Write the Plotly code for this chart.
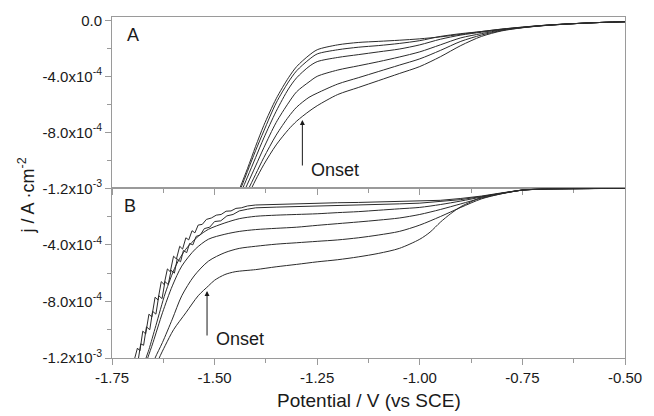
import plotly.graph_objects as go

# ---------------- data (current density in units of 1e-4 A/cm^2) ----------------
A_V = [-1.44, -1.42, -1.40, -1.38, -1.35, -1.32, -1.30, -1.27, -1.25, -1.20, -1.15, -1.10,
       -1.05, -1.00, -0.95, -0.90, -0.85, -0.80, -0.75, -0.70, -0.65, -0.60, -0.55, -0.50]
A1 = [-12.1, -10.6, -9.0, -7.5, -5.6, -4.1, -3.3, -2.5, -2.1, -1.75, -1.58, -1.50,
      -1.42, -1.32, -1.18, -1.00, -0.80, -0.62, -0.48, -0.36, -0.27, -0.20, -0.14, -0.10]
A2 = [-12.3, -10.8, -9.3, -7.9, -5.9, -4.4, -3.6, -2.8, -2.4, -2.1, -1.92, -1.80,
      -1.65, -1.45, -1.15, -0.95, -0.80, -0.63, -0.49, -0.36, -0.27, -0.20, -0.14, -0.10]
A3 = [-12.6, -11.2, -9.8, -8.4, -6.5, -4.9, -4.1, -3.3, -2.95, -2.65, -2.45, -2.25,
      -2.05, -1.75, -1.35, -1.05, -0.85, -0.65, -0.50, -0.37, -0.27, -0.20, -0.14, -0.10]
A4 = [-13.0, -11.7, -10.4, -9.1, -7.3, -5.9, -5.1, -4.4, -4.0, -3.55, -3.25, -2.95,
      -2.62, -2.25, -1.75, -1.25, -0.95, -0.68, -0.51, -0.37, -0.28, -0.20, -0.14, -0.10]
A5 = [-13.4, -12.2, -11.0, -9.8, -8.2, -6.9, -6.2, -5.5, -5.2, -4.55, -4.1, -3.65,
      -3.2, -2.75, -2.15, -1.5, -1.05, -0.72, -0.52, -0.38, -0.28, -0.20, -0.14, -0.10]
A6 = [-13.8, -12.6, -11.4, -10.3, -8.9, -7.8, -7.2, -6.5, -6.1, -5.3, -4.8, -4.3,
      -3.8, -3.3, -2.6, -1.8, -1.15, -0.75, -0.53, -0.38, -0.28, -0.20, -0.14, -0.10]

B1_V = [-1.700, -1.695, -1.688, -1.682, -1.675, -1.668, -1.660, -1.653, -1.645, -1.638,
        -1.630, -1.623, -1.615, -1.608, -1.600, -1.593, -1.585, -1.578, -1.570, -1.563,
        -1.555, -1.548, -1.540, -1.530, -1.520, -1.508, -1.496, -1.484, -1.472, -1.460,
        -1.448, -1.435, -1.42, -1.40, -1.35, -1.30, -1.25, -1.20, -1.15,
        -1.10, -1.05, -1.00, -0.95, -0.90, -0.85, -0.80, -0.75, -0.70, -0.65, -0.60, -0.55, -0.50]
B1 = [-12.6, -12.1, -11.3, -11.5, -10.1, -10.3, -8.9, -9.1, -7.7, -7.9,
      -6.6, -6.8, -5.7, -5.9, -4.8, -5.0, -4.1, -4.3, -3.5, -3.65,
      -3.0, -3.15, -2.6, -2.55, -2.2, -2.1, -1.9, -1.85, -1.62, -1.6,
      -1.42, -1.38, -1.25, -1.18, -1.13, -1.10, -1.06, -1.02, -1.00,
      -0.97, -0.95, -0.92, -0.85, -0.72, -0.55, -0.32, -0.12, -0.05, -0.03, -0.02, -0.01, 0.0]

B2_V = [-1.700, -1.694, -1.687, -1.680, -1.673, -1.666, -1.658, -1.651, -1.643, -1.636,
        -1.628, -1.621, -1.613, -1.606, -1.598, -1.591, -1.583, -1.576, -1.568, -1.561,
        -1.553, -1.545, -1.535, -1.525, -1.512, -1.500, -1.485, -1.47, -1.455, -1.44,
        -1.42, -1.40, -1.35, -1.30, -1.25, -1.20, -1.15, -1.10, -1.05, -1.00, -0.95, -0.90,
        -0.85, -0.80, -0.75, -0.70, -0.65, -0.60, -0.55, -0.50]
B2 = [-13.0, -12.2, -12.3, -11.0, -11.1, -9.8, -10.0, -8.7, -8.9, -7.6,
      -7.8, -6.6, -6.8, -5.8, -6.0, -5.0, -5.2, -4.4, -4.55, -3.9,
      -4.0, -3.4, -3.3, -2.85, -2.75, -2.35, -2.3, -1.95, -1.85, -1.6,
      -1.48, -1.38, -1.33, -1.30, -1.26, -1.22, -1.18, -1.15, -1.10, -1.05, -0.95, -0.80,
      -0.58, -0.33, -0.12, -0.05, -0.03, -0.02, -0.01, 0.0]

B3_V = [-1.672, -1.667, -1.66, -1.643, -1.62, -1.595, -1.57, -1.54, -1.515, -1.475, -1.44,
        -1.40, -1.35, -1.30, -1.25, -1.20, -1.15, -1.10, -1.05, -1.00, -0.95, -0.90, -0.85,
        -0.80, -0.75, -0.70, -0.65, -0.60, -0.55, -0.50]
B3 = [-12.6, -12.0, -11.4, -9.7, -7.4, -5.5, -4.3, -3.4, -2.9, -2.45, -2.15,
      -1.98, -1.90, -1.85, -1.80, -1.72, -1.65, -1.55, -1.45, -1.35, -1.15, -0.9, -0.62,
      -0.35, -0.13, -0.05, -0.03, -0.02, -0.01, 0.0]

B4_V = [-1.67, -1.663, -1.65, -1.627, -1.603, -1.58, -1.547, -1.515, -1.475, -1.44, -1.40,
        -1.35, -1.30, -1.25, -1.20, -1.15, -1.10, -1.05, -1.00, -0.95, -0.90, -0.85, -0.80,
        -0.75, -0.70, -0.65, -0.60, -0.55, -0.50]
B4 = [-12.6, -12.0, -10.9, -8.8, -6.9, -5.5, -4.3, -3.6, -3.25, -3.05, -2.92,
      -2.83, -2.75, -2.62, -2.5, -2.38, -2.25, -2.1, -1.85, -1.5, -1.1, -0.7, -0.38,
      -0.13, -0.05, -0.03, -0.02, -0.01, 0.0]

B5_V = [-1.652, -1.645, -1.627, -1.603, -1.58, -1.55, -1.515, -1.475, -1.44, -1.40, -1.35,
        -1.30, -1.25, -1.20, -1.15, -1.10, -1.05, -1.00, -0.95, -0.90, -0.85, -0.80, -0.75,
        -0.70, -0.65, -0.60, -0.55, -0.50]
B5 = [-12.6, -12.0, -10.9, -9.25, -7.6, -6.2, -5.15, -4.55, -4.25, -4.1, -3.95,
      -3.85, -3.75, -3.65, -3.5, -3.3, -3.05, -2.6, -2.0, -1.35, -0.75, -0.38, -0.13,
      -0.05, -0.03, -0.02, -0.01, 0.0]

B6_V = [-1.642, -1.635, -1.62, -1.60, -1.57, -1.54, -1.515, -1.50, -1.475, -1.45, -1.40,
        -1.35, -1.30, -1.25, -1.20, -1.15, -1.10, -1.05, -1.00, -0.975, -0.95, -0.925, -0.90,
        -0.875, -0.85, -0.80, -0.75, -0.70, -0.65, -0.60, -0.55, -0.50]
B6 = [-12.5, -12.0, -11.1, -10.0, -8.8, -7.6, -6.9, -6.5, -6.1, -5.9, -5.75,
      -5.55, -5.38, -5.2, -5.05, -4.85, -4.6, -4.25, -3.6, -3.1, -2.4, -1.8, -1.3,
      -0.95, -0.65, -0.35, -0.12, -0.05, -0.03, -0.02, -0.01, 0.0]

X_TICKS = [-1.75, -1.50, -1.25, -1.00, -0.75, -0.50]
X_TICK_TEXT = ["-1.75", "-1.50", "-1.25", "-1.00", "-0.75", "-0.50"]
X_MINOR = [-1.625, -1.375, -1.125, -0.875, -0.625]
YA_TICKS = [0.0, -4e-4, -8e-4, -1.2e-3]
YA_TEXT = ["0.0", "-4.0x10<sup>-4</sup>", "-8.0x10<sup>-4</sup>", "-1.2x10<sup>-3</sup>"]
YB_TICKS = [-4e-4, -8e-4, -1.2e-3]
YB_TEXT = ["-4.0x10<sup>-4</sup>", "-8.0x10<sup>-4</sup>", "-1.2x10<sup>-3</sup>"]
Y_MINOR = [-2e-4, -6e-4, -1.0e-3]

# ---------------- figure ----------------
AX = "#9a9a9a"
INK = "#1a1a1a"
FONT = "Liberation Sans, Arial, sans-serif"
SMOOTH = dict(color="#2b2b2b", width=1, shape="spline", smoothing=0.8)
RAW = dict(color="#2b2b2b", width=1)

fig = go.Figure()
for j in [A1, A2, A3, A4, A5, A6]:
    fig.add_trace(go.Scatter(x=A_V, y=[v * 1e-4 for v in j], mode="lines", line=SMOOTH,
                             xaxis="x", yaxis="y", showlegend=False, hoverinfo="skip"))
for v, j, ln in [(B1_V, B1, RAW), (B2_V, B2, RAW), (B3_V, B3, SMOOTH),
                 (B4_V, B4, SMOOTH), (B5_V, B5, SMOOTH), (B6_V, B6, SMOOTH)]:
    fig.add_trace(go.Scatter(x=v, y=[k * 1e-4 for k in j], mode="lines", line=ln,
                             xaxis="x2", yaxis="y2", showlegend=False, hoverinfo="skip"))

split = (358 - 188.3) / 341

common_x = dict(range=[-1.75, -0.50], showline=True, linecolor=AX, linewidth=1, mirror=True,
                ticks="outside", ticklen=6, tickcolor=AX, tickwidth=1,
                tickmode="array", tickvals=X_TICKS, ticktext=X_TICK_TEXT,
                minor=dict(ticks="outside", ticklen=4, tickcolor=AX, tickwidth=1,
                           tickmode="array", tickvals=X_MINOR, showgrid=False),
                showgrid=False, zeroline=False,
                tickfont=dict(family=FONT, size=15, color=INK))
common_y = dict(showline=True, linecolor=AX, linewidth=1, mirror=True,
                ticks="outside", ticklen=6, tickcolor=AX, tickwidth=1, tickmode="array",
                minor=dict(ticks="outside", ticklen=4, tickcolor=AX, tickwidth=1,
                           tickmode="array", tickvals=Y_MINOR, showgrid=False),
                showgrid=False, zeroline=False,
                tickfont=dict(family=FONT, size=15, color=INK))

fig.update_layout(
    width=654, height=416,
    margin=dict(l=112, r=20, t=17, b=58),
    paper_bgcolor="white", plot_bgcolor="white",
    font=dict(family=FONT, color=INK),
    xaxis=dict(common_x, domain=[0, 1], anchor="y", showticklabels=False),
    yaxis=dict(common_y, domain=[split, 1], anchor="x", range=[-1.2e-3, 2.4e-5],
               tickvals=YA_TICKS, ticktext=YA_TEXT),
    xaxis2=dict(common_x, domain=[0, 1], anchor="y2", showticklabels=True),
    yaxis2=dict(common_y, domain=[0, split], anchor="x2", range=[-1.2e-3, 0.0],
                tickvals=YB_TICKS, ticktext=YB_TEXT),
)

def px_x(p):
    return (p - 112) / 522

def px_y(p):
    return (358 - p) / 341

ann = []
ann.append(dict(text="A", x=px_x(125), y=px_y(35.5), xanchor="left", yanchor="middle",
                font=dict(size=18, family=FONT)))
ann.append(dict(text="B", x=px_x(122.5), y=px_y(206.3), xanchor="left", yanchor="middle",
                font=dict(size=18, family=FONT)))
ann.append(dict(text="Onset", x=px_x(312), y=px_y(170), xanchor="left", yanchor="middle",
                font=dict(size=18, family=FONT)))
ann.append(dict(text="Onset", x=px_x(216), y=px_y(339), xanchor="left", yanchor="middle",
                font=dict(size=18, family=FONT)))
ann.append(dict(text="", x=px_x(305.7), y=px_y(120), ax=0, ay=47, showarrow=True,
                arrowhead=2, arrowsize=1, arrowwidth=1, arrowcolor=INK))
ann.append(dict(text="", x=px_x(208.7), y=px_y(291), ax=0, ay=46, showarrow=True,
                arrowhead=2, arrowsize=1, arrowwidth=1, arrowcolor=INK))
ann.append(dict(text="j / A ·cm<sup>-2</sup>", x=px_x(25), y=px_y(196), textangle=-90,
                xanchor="center", yanchor="middle", font=dict(size=18, family=FONT)))
ann.append(dict(text="Potential / V (vs SCE)", x=0.5, y=px_y(401), xanchor="center",
                yanchor="middle", font=dict(size=19, family=FONT)))
for a in ann:
    a.setdefault("showarrow", False)
    a["xref"] = "paper"
    a["yref"] = "paper"
fig.update_layout(annotations=ann)

fig.write_html("out.html", config={"displayModeBar": False},
               post_script="document.body.style.margin='0px';document.body.style.overflow='hidden';")
